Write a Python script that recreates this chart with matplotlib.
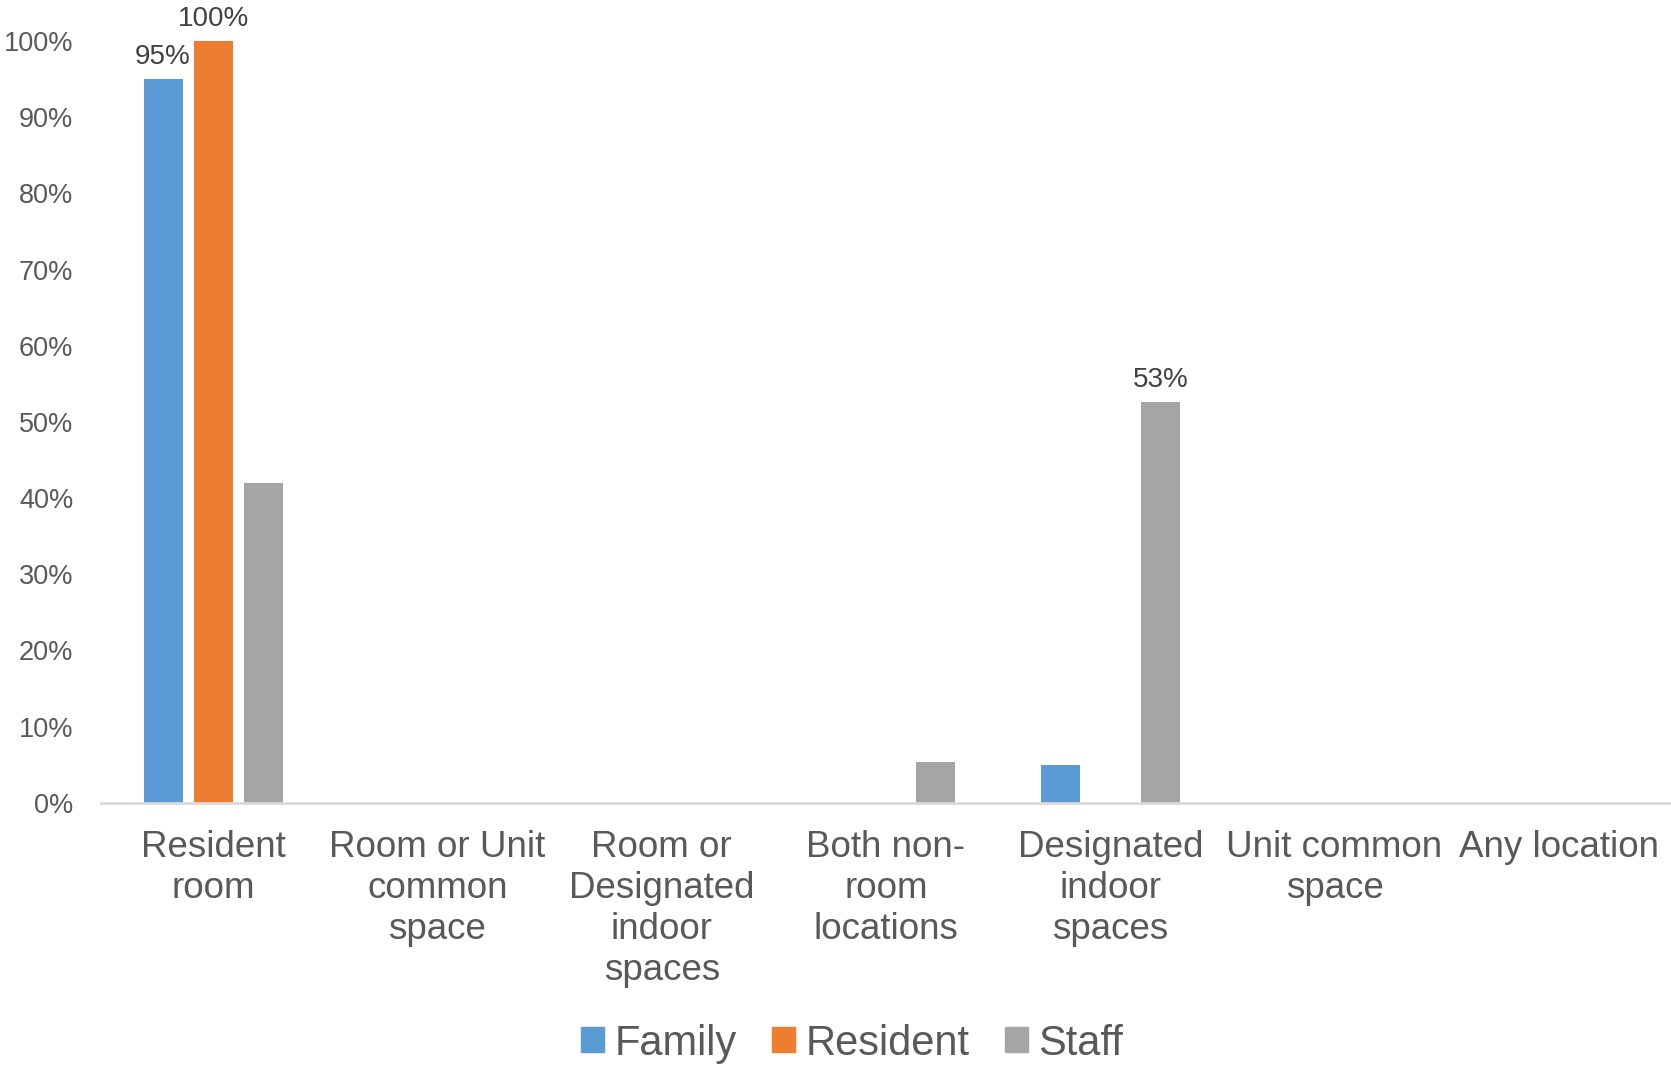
import numpy as np
import matplotlib
matplotlib.use('Agg')
from matplotlib import pyplot as plt
from matplotlib.patches import Patch

plt.rcParams['font.family'] = ['Liberation Sans', 'DejaVu Sans']

#Data
categories = ['Resident\nroom', 'Room or Unit\ncommon\nspace', 'Room or\nDesignated\nindoor\nspaces',
              'Both non-\nroom\nlocations', 'Designated\nindoor\nspaces', 'Unit common\nspace', 'Any location']
family = [95, 0, 0, 0, 5, 0, 0]
resident = [100, 0, 0, 0, 0, 0, 0]
staff = [42, 0, 0, 5.3, 52.6, 0, 0]
labels_family = ['95%', '', '', '', '', '', '']
labels_resident = ['100%', '', '', '', '', '', '']
labels_staff = ['', '', '', '', '53%', '', '']

series = [('Family', family, labels_family, '#5b9bd5'),
          ('Resident', resident, labels_resident, '#ed7d31'),
          ('Staff', staff, labels_staff, '#a5a5a5')]

fig = plt.figure(figsize=(16.71, 10.66), dpi=100)
ax = fig.add_axes([0.0604, 0.247, 0.9396, 0.7145])

x = np.arange(len(categories))
w = 0.174
step = 0.223
for i, (name, vals, labs, col) in enumerate(series):
    pos = x + (i - 1) * step
    ax.bar(pos, vals, width=w, color=col, zorder=2)
    for p, v, t in zip(pos, vals, labs):
        if t:
            ax.text(p, v + 1.2, t, ha='center', va='bottom', fontsize=20, color='#404040')

ax.set_xlim(-0.5, len(categories) - 0.5)
ax.set_ylim(0, 100)
ax.set_yticks(np.arange(0, 101, 10))
ax.set_yticklabels([f'{t}%' for t in range(0, 101, 10)], fontsize=19.5, color='#595959')
ax.set_xticks(x)
ax.set_xticklabels(categories, fontsize=26.5, color='#595959', linespacing=1.22)
ax.tick_params(axis='both', length=0)
ax.tick_params(axis='x', pad=20)
ax.tick_params(axis='y', pad=20)
for s in ['top', 'right', 'left']:
    ax.spines[s].set_visible(False)
ax.spines['bottom'].set_color('#d9d9d9')
ax.spines['bottom'].set_linewidth(2)

handles = [Patch(color=c) for _, _, _, c in series]
fig.legend(handles, [s[0] for s in series], loc='center', bbox_to_anchor=(0.51, 0.021),
           ncol=3, frameon=False, fontsize=30, labelcolor='#595959',
           handlelength=0.55, handleheight=0.55, handletextpad=0.25, columnspacing=0.85)

fig.savefig('out.png', dpi=100)
